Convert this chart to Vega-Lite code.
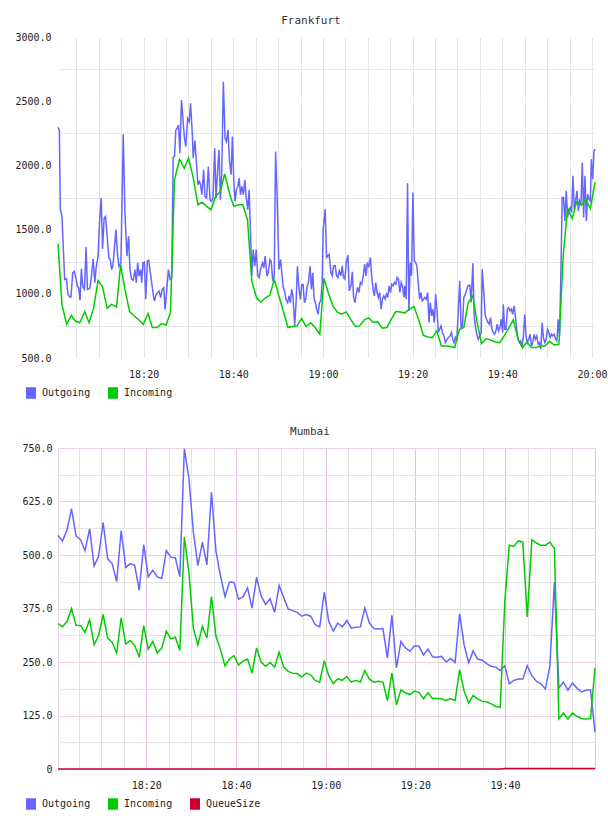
{
  "$schema": "https://vega.github.io/schema/vega-lite/v6.json",
  "background": "white",
  "padding": {"left": 14, "top": 15, "right": 0, "bottom": 0},
  "spacing": 24,
  "resolve": {"scale": {"color": "independent"}, "legend": {"color": "independent"}},
  "config": {
    "font": "DejaVu Sans Mono",
    "view": {"stroke": null},
    "title": {"font": "DejaVu Sans Mono", "fontSize": 11, "fontWeight": "normal", "color": "#333333", "anchor": "middle", "frame": "bounds", "offset": 6},
    "axis": {"labelFont": "DejaVu Sans Mono", "labelFontSize": 10, "labelColor": "#222222", "ticks": false, "domain": false, "title": null, "gridWidth": 1, "labelOverlap": false},
    "legend": {"direction": "horizontal", "symbolType": "M-1,-1H1M-1,-0.8H1M-1,-0.6H1M-1,-0.4H1M-1,-0.2H1M-1,0H1M-1,0.2H1M-1,0.4H1M-1,0.6H1M-1,0.8H1M-1,1H1", "symbolSize": 100, "labelFont": "DejaVu Sans Mono", "labelFontSize": 10, "labelColor": "#222222", "labelOffset": 5, "columnPadding": 14},
    "line": {"strokeWidth": 1.5}
  },
  "datasets": {
    "fra": [
      {"t":"2024-01-01T18:00:54Z","s":"Outgoing","v":2297},{"t":"2024-01-01T18:01:12Z","s":"Outgoing","v":2276},{"t":"2024-01-01T18:01:25Z","s":"Outgoing","v":1655},{"t":"2024-01-01T18:01:47Z","s":"Outgoing","v":1603},
      {"t":"2024-01-01T18:02:23Z","s":"Outgoing","v":1112},{"t":"2024-01-01T18:02:46Z","s":"Outgoing","v":1117},{"t":"2024-01-01T18:03:08Z","s":"Outgoing","v":995},{"t":"2024-01-01T18:03:30Z","s":"Outgoing","v":975},
      {"t":"2024-01-01T18:03:48Z","s":"Outgoing","v":975},{"t":"2024-01-01T18:04:11Z","s":"Outgoing","v":1163},{"t":"2024-01-01T18:04:33Z","s":"Outgoing","v":1176},{"t":"2024-01-01T18:04:56Z","s":"Outgoing","v":1112},
      {"t":"2024-01-01T18:05:13Z","s":"Outgoing","v":1060},{"t":"2024-01-01T18:05:31Z","s":"Outgoing","v":1047},{"t":"2024-01-01T18:05:49Z","s":"Outgoing","v":949},{"t":"2024-01-01T18:06:07Z","s":"Outgoing","v":1195},
      {"t":"2024-01-01T18:06:25Z","s":"Outgoing","v":1055},{"t":"2024-01-01T18:06:48Z","s":"Outgoing","v":1034},{"t":"2024-01-01T18:07:10Z","s":"Outgoing","v":1365},{"t":"2024-01-01T18:07:28Z","s":"Outgoing","v":1034},
      {"t":"2024-01-01T18:07:59Z","s":"Outgoing","v":1042},{"t":"2024-01-01T18:08:22Z","s":"Outgoing","v":1138},{"t":"2024-01-01T18:08:44Z","s":"Outgoing","v":1273},{"t":"2024-01-01T18:09:07Z","s":"Outgoing","v":1086},
      {"t":"2024-01-01T18:09:24Z","s":"Outgoing","v":1202},{"t":"2024-01-01T18:09:51Z","s":"Outgoing","v":1293},{"t":"2024-01-01T18:10:09Z","s":"Outgoing","v":1551},{"t":"2024-01-01T18:10:32Z","s":"Outgoing","v":1746},
      {"t":"2024-01-01T18:10:50Z","s":"Outgoing","v":1350},{"t":"2024-01-01T18:11:12Z","s":"Outgoing","v":1590},{"t":"2024-01-01T18:11:30Z","s":"Outgoing","v":1603},{"t":"2024-01-01T18:11:52Z","s":"Outgoing","v":1448},
      {"t":"2024-01-01T18:12:15Z","s":"Outgoing","v":1280},{"t":"2024-01-01T18:12:33Z","s":"Outgoing","v":1267},{"t":"2024-01-01T18:12:51Z","s":"Outgoing","v":1189},{"t":"2024-01-01T18:13:08Z","s":"Outgoing","v":1215},
      {"t":"2024-01-01T18:13:26Z","s":"Outgoing","v":1332},{"t":"2024-01-01T18:13:49Z","s":"Outgoing","v":1500},{"t":"2024-01-01T18:14:07Z","s":"Outgoing","v":1332},{"t":"2024-01-01T18:14:29Z","s":"Outgoing","v":1215},
      {"t":"2024-01-01T18:14:56Z","s":"Outgoing","v":1241},{"t":"2024-01-01T18:15:27Z","s":"Outgoing","v":2242},{"t":"2024-01-01T18:15:50Z","s":"Outgoing","v":1629},{"t":"2024-01-01T18:16:17Z","s":"Outgoing","v":1293},
      {"t":"2024-01-01T18:16:39Z","s":"Outgoing","v":1448},{"t":"2024-01-01T18:16:57Z","s":"Outgoing","v":1189},{"t":"2024-01-01T18:17:19Z","s":"Outgoing","v":1112},{"t":"2024-01-01T18:17:42Z","s":"Outgoing","v":1107},
      {"t":"2024-01-01T18:18:04Z","s":"Outgoing","v":1189},{"t":"2024-01-01T18:18:22Z","s":"Outgoing","v":1086},{"t":"2024-01-01T18:18:40Z","s":"Outgoing","v":1241},{"t":"2024-01-01T18:18:58Z","s":"Outgoing","v":1138},
      {"t":"2024-01-01T18:19:20Z","s":"Outgoing","v":1189},{"t":"2024-01-01T18:19:34Z","s":"Outgoing","v":1086},{"t":"2024-01-01T18:19:52Z","s":"Outgoing","v":1241},{"t":"2024-01-01T18:20:10Z","s":"Outgoing","v":1246},
      {"t":"2024-01-01T18:20:28Z","s":"Outgoing","v":957},{"t":"2024-01-01T18:20:50Z","s":"Outgoing","v":1254},{"t":"2024-01-01T18:21:08Z","s":"Outgoing","v":1262},{"t":"2024-01-01T18:21:30Z","s":"Outgoing","v":1163},
      {"t":"2024-01-01T18:21:48Z","s":"Outgoing","v":1086},{"t":"2024-01-01T18:22:06Z","s":"Outgoing","v":1008},{"t":"2024-01-01T18:22:24Z","s":"Outgoing","v":944},{"t":"2024-01-01T18:22:42Z","s":"Outgoing","v":983},
      {"t":"2024-01-01T18:23:04Z","s":"Outgoing","v":1008},{"t":"2024-01-01T18:23:27Z","s":"Outgoing","v":1021},{"t":"2024-01-01T18:23:49Z","s":"Outgoing","v":970},{"t":"2024-01-01T18:24:07Z","s":"Outgoing","v":1034},
      {"t":"2024-01-01T18:24:30Z","s":"Outgoing","v":1047},{"t":"2024-01-01T18:24:47Z","s":"Outgoing","v":879},{"t":"2024-01-01T18:25:10Z","s":"Outgoing","v":1034},{"t":"2024-01-01T18:25:32Z","s":"Outgoing","v":1189},
      {"t":"2024-01-01T18:25:55Z","s":"Outgoing","v":1112},{"t":"2024-01-01T18:26:17Z","s":"Outgoing","v":1125},{"t":"2024-01-01T18:26:35Z","s":"Outgoing","v":2060},{"t":"2024-01-01T18:26:53Z","s":"Outgoing","v":2070},
      {"t":"2024-01-01T18:27:11Z","s":"Outgoing","v":2276},{"t":"2024-01-01T18:27:29Z","s":"Outgoing","v":2289},{"t":"2024-01-01T18:27:47Z","s":"Outgoing","v":2315},{"t":"2024-01-01T18:28:05Z","s":"Outgoing","v":2095},
      {"t":"2024-01-01T18:28:27Z","s":"Outgoing","v":2509},{"t":"2024-01-01T18:28:49Z","s":"Outgoing","v":2340},{"t":"2024-01-01T18:29:07Z","s":"Outgoing","v":2211},{"t":"2024-01-01T18:29:25Z","s":"Outgoing","v":2147},
      {"t":"2024-01-01T18:29:48Z","s":"Outgoing","v":2366},{"t":"2024-01-01T18:30:10Z","s":"Outgoing","v":2340},{"t":"2024-01-01T18:30:28Z","s":"Outgoing","v":2483},{"t":"2024-01-01T18:30:51Z","s":"Outgoing","v":2250},
      {"t":"2024-01-01T18:31:04Z","s":"Outgoing","v":2056},{"t":"2024-01-01T18:31:26Z","s":"Outgoing","v":2193},{"t":"2024-01-01T18:31:44Z","s":"Outgoing","v":2043},{"t":"2024-01-01T18:32:07Z","s":"Outgoing","v":1849},
      {"t":"2024-01-01T18:32:25Z","s":"Outgoing","v":1875},{"t":"2024-01-01T18:32:43Z","s":"Outgoing","v":1849},{"t":"2024-01-01T18:33:00Z","s":"Outgoing","v":1771},{"t":"2024-01-01T18:33:23Z","s":"Outgoing","v":1965},
      {"t":"2024-01-01T18:33:41Z","s":"Outgoing","v":1758},{"t":"2024-01-01T18:34:03Z","s":"Outgoing","v":1746},{"t":"2024-01-01T18:34:26Z","s":"Outgoing","v":1991},{"t":"2024-01-01T18:34:48Z","s":"Outgoing","v":1732},
      {"t":"2024-01-01T18:35:10Z","s":"Outgoing","v":1720},{"t":"2024-01-01T18:35:28Z","s":"Outgoing","v":1746},{"t":"2024-01-01T18:35:51Z","s":"Outgoing","v":2134},{"t":"2024-01-01T18:36:09Z","s":"Outgoing","v":1746},
      {"t":"2024-01-01T18:36:31Z","s":"Outgoing","v":1965},{"t":"2024-01-01T18:36:49Z","s":"Outgoing","v":2121},{"t":"2024-01-01T18:37:07Z","s":"Outgoing","v":1732},{"t":"2024-01-01T18:37:25Z","s":"Outgoing","v":1927},
      {"t":"2024-01-01T18:37:47Z","s":"Outgoing","v":2651},{"t":"2024-01-01T18:38:10Z","s":"Outgoing","v":2211},{"t":"2024-01-01T18:38:28Z","s":"Outgoing","v":2185},{"t":"2024-01-01T18:38:50Z","s":"Outgoing","v":2276},
      {"t":"2024-01-01T18:39:08Z","s":"Outgoing","v":2043},{"t":"2024-01-01T18:39:30Z","s":"Outgoing","v":1927},{"t":"2024-01-01T18:39:48Z","s":"Outgoing","v":2224},{"t":"2024-01-01T18:40:06Z","s":"Outgoing","v":1888},
      {"t":"2024-01-01T18:40:24Z","s":"Outgoing","v":1720},{"t":"2024-01-01T18:40:42Z","s":"Outgoing","v":1810},{"t":"2024-01-01T18:41:00Z","s":"Outgoing","v":1836},{"t":"2024-01-01T18:41:18Z","s":"Outgoing","v":1901},
      {"t":"2024-01-01T18:41:36Z","s":"Outgoing","v":1771},{"t":"2024-01-01T18:41:54Z","s":"Outgoing","v":1836},{"t":"2024-01-01T18:42:16Z","s":"Outgoing","v":1771},{"t":"2024-01-01T18:42:34Z","s":"Outgoing","v":1888},
      {"t":"2024-01-01T18:42:52Z","s":"Outgoing","v":1758},{"t":"2024-01-01T18:43:14Z","s":"Outgoing","v":1655},{"t":"2024-01-01T18:43:32Z","s":"Outgoing","v":1810},{"t":"2024-01-01T18:43:50Z","s":"Outgoing","v":1474},
      {"t":"2024-01-01T18:44:08Z","s":"Outgoing","v":1138},{"t":"2024-01-01T18:44:26Z","s":"Outgoing","v":1345},{"t":"2024-01-01T18:44:48Z","s":"Outgoing","v":1215},{"t":"2024-01-01T18:45:06Z","s":"Outgoing","v":1345},
      {"t":"2024-01-01T18:45:29Z","s":"Outgoing","v":1138},{"t":"2024-01-01T18:45:47Z","s":"Outgoing","v":1125},{"t":"2024-01-01T18:46:09Z","s":"Outgoing","v":1202},{"t":"2024-01-01T18:46:32Z","s":"Outgoing","v":1241},
      {"t":"2024-01-01T18:46:49Z","s":"Outgoing","v":1202},{"t":"2024-01-01T18:47:07Z","s":"Outgoing","v":1293},{"t":"2024-01-01T18:47:30Z","s":"Outgoing","v":1138},{"t":"2024-01-01T18:47:48Z","s":"Outgoing","v":1163},
      {"t":"2024-01-01T18:48:10Z","s":"Outgoing","v":1267},{"t":"2024-01-01T18:48:28Z","s":"Outgoing","v":1254},{"t":"2024-01-01T18:48:46Z","s":"Outgoing","v":1112},{"t":"2024-01-01T18:49:08Z","s":"Outgoing","v":1138},
      {"t":"2024-01-01T18:49:26Z","s":"Outgoing","v":2108},{"t":"2024-01-01T18:49:49Z","s":"Outgoing","v":1707},{"t":"2024-01-01T18:50:11Z","s":"Outgoing","v":1189},{"t":"2024-01-01T18:50:34Z","s":"Outgoing","v":1267},
      {"t":"2024-01-01T18:50:51Z","s":"Outgoing","v":1151},{"t":"2024-01-01T18:51:09Z","s":"Outgoing","v":1047},{"t":"2024-01-01T18:51:27Z","s":"Outgoing","v":1021},{"t":"2024-01-01T18:51:45Z","s":"Outgoing","v":957},
      {"t":"2024-01-01T18:52:08Z","s":"Outgoing","v":931},{"t":"2024-01-01T18:52:25Z","s":"Outgoing","v":983},{"t":"2024-01-01T18:52:43Z","s":"Outgoing","v":931},{"t":"2024-01-01T18:53:01Z","s":"Outgoing","v":1034},
      {"t":"2024-01-01T18:53:19Z","s":"Outgoing","v":983},{"t":"2024-01-01T18:53:42Z","s":"Outgoing","v":750},{"t":"2024-01-01T18:54:00Z","s":"Outgoing","v":931},{"t":"2024-01-01T18:54:18Z","s":"Outgoing","v":1215},
      {"t":"2024-01-01T18:54:40Z","s":"Outgoing","v":1034},{"t":"2024-01-01T18:54:58Z","s":"Outgoing","v":957},{"t":"2024-01-01T18:55:16Z","s":"Outgoing","v":1073},{"t":"2024-01-01T18:55:34Z","s":"Outgoing","v":1073},
      {"t":"2024-01-01T18:55:52Z","s":"Outgoing","v":931},{"t":"2024-01-01T18:56:10Z","s":"Outgoing","v":957},{"t":"2024-01-01T18:56:28Z","s":"Outgoing","v":1060},{"t":"2024-01-01T18:56:45Z","s":"Outgoing","v":1086},
      {"t":"2024-01-01T18:57:08Z","s":"Outgoing","v":1215},{"t":"2024-01-01T18:57:26Z","s":"Outgoing","v":1034},{"t":"2024-01-01T18:57:44Z","s":"Outgoing","v":1163},{"t":"2024-01-01T18:58:02Z","s":"Outgoing","v":957},
      {"t":"2024-01-01T18:58:20Z","s":"Outgoing","v":931},{"t":"2024-01-01T18:58:37Z","s":"Outgoing","v":879},{"t":"2024-01-01T18:58:55Z","s":"Outgoing","v":840},{"t":"2024-01-01T18:59:13Z","s":"Outgoing","v":931},
      {"t":"2024-01-01T18:59:31Z","s":"Outgoing","v":944},{"t":"2024-01-01T18:59:49Z","s":"Outgoing","v":1086},{"t":"2024-01-01T19:00:03Z","s":"Outgoing","v":1503},{"t":"2024-01-01T19:00:30Z","s":"Outgoing","v":1659},
      {"t":"2024-01-01T19:00:48Z","s":"Outgoing","v":1283},{"t":"2024-01-01T19:01:05Z","s":"Outgoing","v":1296},{"t":"2024-01-01T19:01:23Z","s":"Outgoing","v":1308},{"t":"2024-01-01T19:01:46Z","s":"Outgoing","v":1166},
      {"t":"2024-01-01T19:02:04Z","s":"Outgoing","v":1140},{"t":"2024-01-01T19:02:22Z","s":"Outgoing","v":1218},{"t":"2024-01-01T19:02:44Z","s":"Outgoing","v":1218},{"t":"2024-01-01T19:03:02Z","s":"Outgoing","v":1140},
      {"t":"2024-01-01T19:03:20Z","s":"Outgoing","v":1127},{"t":"2024-01-01T19:03:38Z","s":"Outgoing","v":1179},{"t":"2024-01-01T19:04:00Z","s":"Outgoing","v":1140},{"t":"2024-01-01T19:04:18Z","s":"Outgoing","v":1218},
      {"t":"2024-01-01T19:04:36Z","s":"Outgoing","v":1127},{"t":"2024-01-01T19:04:54Z","s":"Outgoing","v":1114},{"t":"2024-01-01T19:05:12Z","s":"Outgoing","v":1244},{"t":"2024-01-01T19:05:34Z","s":"Outgoing","v":1303},
      {"t":"2024-01-01T19:05:52Z","s":"Outgoing","v":1023},{"t":"2024-01-01T19:06:15Z","s":"Outgoing","v":1062},{"t":"2024-01-01T19:06:33Z","s":"Outgoing","v":1171},{"t":"2024-01-01T19:06:50Z","s":"Outgoing","v":971},
      {"t":"2024-01-01T19:07:08Z","s":"Outgoing","v":932},{"t":"2024-01-01T19:07:26Z","s":"Outgoing","v":997},{"t":"2024-01-01T19:07:44Z","s":"Outgoing","v":1049},{"t":"2024-01-01T19:08:02Z","s":"Outgoing","v":1010},
      {"t":"2024-01-01T19:08:20Z","s":"Outgoing","v":1088},{"t":"2024-01-01T19:08:38Z","s":"Outgoing","v":1075},{"t":"2024-01-01T19:09:00Z","s":"Outgoing","v":1140},{"t":"2024-01-01T19:09:18Z","s":"Outgoing","v":1231},
      {"t":"2024-01-01T19:09:36Z","s":"Outgoing","v":1140},{"t":"2024-01-01T19:09:54Z","s":"Outgoing","v":1244},{"t":"2024-01-01T19:10:12Z","s":"Outgoing","v":1205},{"t":"2024-01-01T19:10:35Z","s":"Outgoing","v":1283},
      {"t":"2024-01-01T19:10:52Z","s":"Outgoing","v":1140},{"t":"2024-01-01T19:11:10Z","s":"Outgoing","v":1036},{"t":"2024-01-01T19:11:28Z","s":"Outgoing","v":984},{"t":"2024-01-01T19:11:46Z","s":"Outgoing","v":1088},
      {"t":"2024-01-01T19:12:04Z","s":"Outgoing","v":1010},{"t":"2024-01-01T19:12:22Z","s":"Outgoing","v":971},{"t":"2024-01-01T19:12:40Z","s":"Outgoing","v":1010},{"t":"2024-01-01T19:12:58Z","s":"Outgoing","v":880},
      {"t":"2024-01-01T19:13:16Z","s":"Outgoing","v":958},{"t":"2024-01-01T19:13:34Z","s":"Outgoing","v":984},{"t":"2024-01-01T19:13:52Z","s":"Outgoing","v":958},{"t":"2024-01-01T19:14:10Z","s":"Outgoing","v":997},
      {"t":"2024-01-01T19:14:28Z","s":"Outgoing","v":971},{"t":"2024-01-01T19:14:45Z","s":"Outgoing","v":1062},{"t":"2024-01-01T19:15:03Z","s":"Outgoing","v":1010},{"t":"2024-01-01T19:15:21Z","s":"Outgoing","v":1075},
      {"t":"2024-01-01T19:15:39Z","s":"Outgoing","v":1062},{"t":"2024-01-01T19:15:57Z","s":"Outgoing","v":1088},{"t":"2024-01-01T19:16:15Z","s":"Outgoing","v":1075},{"t":"2024-01-01T19:16:33Z","s":"Outgoing","v":1127},
      {"t":"2024-01-01T19:16:51Z","s":"Outgoing","v":1114},{"t":"2024-01-01T19:17:09Z","s":"Outgoing","v":1010},{"t":"2024-01-01T19:17:27Z","s":"Outgoing","v":1088},{"t":"2024-01-01T19:17:45Z","s":"Outgoing","v":1062},
      {"t":"2024-01-01T19:18:03Z","s":"Outgoing","v":971},{"t":"2024-01-01T19:18:16Z","s":"Outgoing","v":1062},{"t":"2024-01-01T19:18:34Z","s":"Outgoing","v":958},{"t":"2024-01-01T19:18:52Z","s":"Outgoing","v":1860},
      {"t":"2024-01-01T19:19:10Z","s":"Outgoing","v":867},{"t":"2024-01-01T19:19:28Z","s":"Outgoing","v":1244},{"t":"2024-01-01T19:19:46Z","s":"Outgoing","v":1140},{"t":"2024-01-01T19:20:04Z","s":"Outgoing","v":1789},
      {"t":"2024-01-01T19:20:22Z","s":"Outgoing","v":1257},{"t":"2024-01-01T19:20:39Z","s":"Outgoing","v":1244},{"t":"2024-01-01T19:20:57Z","s":"Outgoing","v":1218},{"t":"2024-01-01T19:21:15Z","s":"Outgoing","v":1088},
      {"t":"2024-01-01T19:21:33Z","s":"Outgoing","v":958},{"t":"2024-01-01T19:21:51Z","s":"Outgoing","v":1010},{"t":"2024-01-01T19:22:09Z","s":"Outgoing","v":945},{"t":"2024-01-01T19:22:27Z","s":"Outgoing","v":958},
      {"t":"2024-01-01T19:22:45Z","s":"Outgoing","v":971},{"t":"2024-01-01T19:23:03Z","s":"Outgoing","v":958},{"t":"2024-01-01T19:23:21Z","s":"Outgoing","v":1010},{"t":"2024-01-01T19:23:39Z","s":"Outgoing","v":776},
      {"t":"2024-01-01T19:23:57Z","s":"Outgoing","v":932},{"t":"2024-01-01T19:24:15Z","s":"Outgoing","v":828},{"t":"2024-01-01T19:24:32Z","s":"Outgoing","v":880},{"t":"2024-01-01T19:24:50Z","s":"Outgoing","v":776},
      {"t":"2024-01-01T19:25:08Z","s":"Outgoing","v":997},{"t":"2024-01-01T19:25:26Z","s":"Outgoing","v":880},{"t":"2024-01-01T19:25:44Z","s":"Outgoing","v":698},{"t":"2024-01-01T19:26:02Z","s":"Outgoing","v":724},
      {"t":"2024-01-01T19:26:20Z","s":"Outgoing","v":750},{"t":"2024-01-01T19:26:38Z","s":"Outgoing","v":698},{"t":"2024-01-01T19:27:00Z","s":"Outgoing","v":672},{"t":"2024-01-01T19:27:18Z","s":"Outgoing","v":620},
      {"t":"2024-01-01T19:27:41Z","s":"Outgoing","v":646},{"t":"2024-01-01T19:27:59Z","s":"Outgoing","v":659},{"t":"2024-01-01T19:28:21Z","s":"Outgoing","v":672},{"t":"2024-01-01T19:28:39Z","s":"Outgoing","v":698},
      {"t":"2024-01-01T19:28:57Z","s":"Outgoing","v":646},{"t":"2024-01-01T19:29:15Z","s":"Outgoing","v":620},{"t":"2024-01-01T19:29:33Z","s":"Outgoing","v":659},{"t":"2024-01-01T19:29:51Z","s":"Outgoing","v":633},
      {"t":"2024-01-01T19:30:31Z","s":"Outgoing","v":1101},{"t":"2024-01-01T19:30:49Z","s":"Outgoing","v":724},{"t":"2024-01-01T19:31:07Z","s":"Outgoing","v":750},{"t":"2024-01-01T19:31:25Z","s":"Outgoing","v":971},
      {"t":"2024-01-01T19:31:47Z","s":"Outgoing","v":997},{"t":"2024-01-01T19:32:05Z","s":"Outgoing","v":1036},{"t":"2024-01-01T19:32:23Z","s":"Outgoing","v":1067},{"t":"2024-01-01T19:32:46Z","s":"Outgoing","v":1067},
      {"t":"2024-01-01T19:33:04Z","s":"Outgoing","v":932},{"t":"2024-01-01T19:33:26Z","s":"Outgoing","v":1238},{"t":"2024-01-01T19:33:44Z","s":"Outgoing","v":828},{"t":"2024-01-01T19:34:02Z","s":"Outgoing","v":737},
      {"t":"2024-01-01T19:34:20Z","s":"Outgoing","v":685},{"t":"2024-01-01T19:34:38Z","s":"Outgoing","v":646},{"t":"2024-01-01T19:35:00Z","s":"Outgoing","v":672},{"t":"2024-01-01T19:35:18Z","s":"Outgoing","v":698},
      {"t":"2024-01-01T19:35:31Z","s":"Outgoing","v":1192},{"t":"2024-01-01T19:35:54Z","s":"Outgoing","v":997},{"t":"2024-01-01T19:36:12Z","s":"Outgoing","v":828},{"t":"2024-01-01T19:36:30Z","s":"Outgoing","v":802},
      {"t":"2024-01-01T19:36:48Z","s":"Outgoing","v":776},{"t":"2024-01-01T19:37:05Z","s":"Outgoing","v":763},{"t":"2024-01-01T19:37:23Z","s":"Outgoing","v":815},{"t":"2024-01-01T19:37:41Z","s":"Outgoing","v":724},
      {"t":"2024-01-01T19:37:59Z","s":"Outgoing","v":698},{"t":"2024-01-01T19:38:17Z","s":"Outgoing","v":685},{"t":"2024-01-01T19:38:35Z","s":"Outgoing","v":711},{"t":"2024-01-01T19:38:53Z","s":"Outgoing","v":763},
      {"t":"2024-01-01T19:39:11Z","s":"Outgoing","v":711},{"t":"2024-01-01T19:39:29Z","s":"Outgoing","v":737},{"t":"2024-01-01T19:39:47Z","s":"Outgoing","v":802},{"t":"2024-01-01T19:40:05Z","s":"Outgoing","v":698},
      {"t":"2024-01-01T19:40:14Z","s":"Outgoing","v":919},{"t":"2024-01-01T19:40:32Z","s":"Outgoing","v":724},{"t":"2024-01-01T19:40:50Z","s":"Outgoing","v":724},{"t":"2024-01-01T19:41:08Z","s":"Outgoing","v":880},
      {"t":"2024-01-01T19:41:25Z","s":"Outgoing","v":893},{"t":"2024-01-01T19:41:43Z","s":"Outgoing","v":867},{"t":"2024-01-01T19:42:01Z","s":"Outgoing","v":880},{"t":"2024-01-01T19:42:19Z","s":"Outgoing","v":841},
      {"t":"2024-01-01T19:42:37Z","s":"Outgoing","v":906},{"t":"2024-01-01T19:42:55Z","s":"Outgoing","v":828},{"t":"2024-01-01T19:43:13Z","s":"Outgoing","v":724},{"t":"2024-01-01T19:43:31Z","s":"Outgoing","v":646},
      {"t":"2024-01-01T19:43:49Z","s":"Outgoing","v":620},{"t":"2024-01-01T19:44:07Z","s":"Outgoing","v":633},{"t":"2024-01-01T19:44:25Z","s":"Outgoing","v":594},{"t":"2024-01-01T19:44:43Z","s":"Outgoing","v":672},
      {"t":"2024-01-01T19:45:00Z","s":"Outgoing","v":841},{"t":"2024-01-01T19:45:18Z","s":"Outgoing","v":672},{"t":"2024-01-01T19:45:36Z","s":"Outgoing","v":620},{"t":"2024-01-01T19:45:54Z","s":"Outgoing","v":646},
      {"t":"2024-01-01T19:46:12Z","s":"Outgoing","v":685},{"t":"2024-01-01T19:46:30Z","s":"Outgoing","v":594},{"t":"2024-01-01T19:46:48Z","s":"Outgoing","v":620},{"t":"2024-01-01T19:47:06Z","s":"Outgoing","v":685},
      {"t":"2024-01-01T19:47:24Z","s":"Outgoing","v":646},{"t":"2024-01-01T19:47:42Z","s":"Outgoing","v":672},{"t":"2024-01-01T19:48:00Z","s":"Outgoing","v":607},{"t":"2024-01-01T19:48:18Z","s":"Outgoing","v":620},
      {"t":"2024-01-01T19:48:36Z","s":"Outgoing","v":568},{"t":"2024-01-01T19:48:53Z","s":"Outgoing","v":776},{"t":"2024-01-01T19:49:11Z","s":"Outgoing","v":659},{"t":"2024-01-01T19:49:29Z","s":"Outgoing","v":620},
      {"t":"2024-01-01T19:49:47Z","s":"Outgoing","v":646},{"t":"2024-01-01T19:50:05Z","s":"Outgoing","v":724},{"t":"2024-01-01T19:50:23Z","s":"Outgoing","v":698},{"t":"2024-01-01T19:50:41Z","s":"Outgoing","v":659},
      {"t":"2024-01-01T19:50:59Z","s":"Outgoing","v":685},{"t":"2024-01-01T19:51:17Z","s":"Outgoing","v":672},{"t":"2024-01-01T19:51:35Z","s":"Outgoing","v":685},{"t":"2024-01-01T19:51:53Z","s":"Outgoing","v":646},
      {"t":"2024-01-01T19:52:11Z","s":"Outgoing","v":633},{"t":"2024-01-01T19:52:29Z","s":"Outgoing","v":802},{"t":"2024-01-01T19:52:47Z","s":"Outgoing","v":672},{"t":"2024-01-01T19:53:04Z","s":"Outgoing","v":1140},
      {"t":"2024-01-01T19:53:22Z","s":"Outgoing","v":1750},{"t":"2024-01-01T19:53:40Z","s":"Outgoing","v":1750},{"t":"2024-01-01T19:53:58Z","s":"Outgoing","v":1568},{"t":"2024-01-01T19:54:16Z","s":"Outgoing","v":1802},
      {"t":"2024-01-01T19:54:34Z","s":"Outgoing","v":1594},{"t":"2024-01-01T19:54:52Z","s":"Outgoing","v":1646},{"t":"2024-01-01T19:55:10Z","s":"Outgoing","v":1672},{"t":"2024-01-01T19:55:28Z","s":"Outgoing","v":1633},
      {"t":"2024-01-01T19:55:46Z","s":"Outgoing","v":1919},{"t":"2024-01-01T19:56:04Z","s":"Outgoing","v":1659},{"t":"2024-01-01T19:56:22Z","s":"Outgoing","v":1724},{"t":"2024-01-01T19:56:40Z","s":"Outgoing","v":1802},
      {"t":"2024-01-01T19:56:58Z","s":"Outgoing","v":1646},{"t":"2024-01-01T19:57:15Z","s":"Outgoing","v":1724},{"t":"2024-01-01T19:57:33Z","s":"Outgoing","v":1698},{"t":"2024-01-01T19:57:51Z","s":"Outgoing","v":2023},
      {"t":"2024-01-01T19:58:09Z","s":"Outgoing","v":1594},{"t":"2024-01-01T19:58:27Z","s":"Outgoing","v":1919},{"t":"2024-01-01T19:58:45Z","s":"Outgoing","v":1568},{"t":"2024-01-01T19:59:03Z","s":"Outgoing","v":1776},
      {"t":"2024-01-01T19:59:21Z","s":"Outgoing","v":1737},{"t":"2024-01-01T19:59:39Z","s":"Outgoing","v":1724},{"t":"2024-01-01T19:59:52Z","s":"Outgoing","v":2049},{"t":"2024-01-01T20:00:10Z","s":"Outgoing","v":1893},
      {"t":"2024-01-01T20:00:28Z","s":"Outgoing","v":2114},{"t":"2024-01-01T20:00:41Z","s":"Outgoing","v":2127},
      {"t":"2024-01-01T18:00:54Z","s":"Incoming","v":1391},{"t":"2024-01-01T18:01:47Z","s":"Incoming","v":918},{"t":"2024-01-01T18:02:50Z","s":"Incoming","v":762},{"t":"2024-01-01T18:03:53Z","s":"Incoming","v":832},
      {"t":"2024-01-01T18:04:47Z","s":"Incoming","v":788},{"t":"2024-01-01T18:05:45Z","s":"Incoming","v":775},{"t":"2024-01-01T18:06:52Z","s":"Incoming","v":861},{"t":"2024-01-01T18:07:50Z","s":"Incoming","v":775},
      {"t":"2024-01-01T18:08:49Z","s":"Incoming","v":884},{"t":"2024-01-01T18:09:51Z","s":"Incoming","v":1104},{"t":"2024-01-01T18:10:50Z","s":"Incoming","v":1054},{"t":"2024-01-01T18:11:52Z","s":"Incoming","v":887},
      {"t":"2024-01-01T18:12:50Z","s":"Incoming","v":918},{"t":"2024-01-01T18:13:58Z","s":"Incoming","v":897},{"t":"2024-01-01T18:14:52Z","s":"Incoming","v":1228},{"t":"2024-01-01T18:15:50Z","s":"Incoming","v":1034},
      {"t":"2024-01-01T18:16:52Z","s":"Incoming","v":861},{"t":"2024-01-01T18:17:55Z","s":"Incoming","v":827},{"t":"2024-01-01T18:18:58Z","s":"Incoming","v":796},{"t":"2024-01-01T18:19:56Z","s":"Incoming","v":762},
      {"t":"2024-01-01T18:20:59Z","s":"Incoming","v":848},{"t":"2024-01-01T18:21:57Z","s":"Incoming","v":737},{"t":"2024-01-01T18:23:00Z","s":"Incoming","v":737},{"t":"2024-01-01T18:24:03Z","s":"Incoming","v":768},
      {"t":"2024-01-01T18:25:01Z","s":"Incoming","v":757},{"t":"2024-01-01T18:25:59Z","s":"Incoming","v":853},{"t":"2024-01-01T18:26:53Z","s":"Incoming","v":1888},{"t":"2024-01-01T18:28:00Z","s":"Incoming","v":2048},
      {"t":"2024-01-01T18:29:03Z","s":"Incoming","v":1978},{"t":"2024-01-01T18:30:01Z","s":"Incoming","v":2056},{"t":"2024-01-01T18:31:00Z","s":"Incoming","v":1914},{"t":"2024-01-01T18:32:07Z","s":"Incoming","v":1694},
      {"t":"2024-01-01T18:33:05Z","s":"Incoming","v":1714},{"t":"2024-01-01T18:34:03Z","s":"Incoming","v":1681},{"t":"2024-01-01T18:35:01Z","s":"Incoming","v":1655},{"t":"2024-01-01T18:36:04Z","s":"Incoming","v":1758},
      {"t":"2024-01-01T18:37:07Z","s":"Incoming","v":1797},{"t":"2024-01-01T18:38:05Z","s":"Incoming","v":1934},{"t":"2024-01-01T18:39:08Z","s":"Incoming","v":1784},{"t":"2024-01-01T18:40:06Z","s":"Incoming","v":1681},
      {"t":"2024-01-01T18:41:09Z","s":"Incoming","v":1694},{"t":"2024-01-01T18:42:07Z","s":"Incoming","v":1694},{"t":"2024-01-01T18:43:10Z","s":"Incoming","v":1577},{"t":"2024-01-01T18:44:08Z","s":"Incoming","v":1099},
      {"t":"2024-01-01T18:45:11Z","s":"Incoming","v":969},{"t":"2024-01-01T18:46:09Z","s":"Incoming","v":936},{"t":"2024-01-01T18:47:12Z","s":"Incoming","v":969},{"t":"2024-01-01T18:48:10Z","s":"Incoming","v":990},
      {"t":"2024-01-01T18:49:08Z","s":"Incoming","v":1112},{"t":"2024-01-01T18:50:11Z","s":"Incoming","v":983},{"t":"2024-01-01T18:51:09Z","s":"Incoming","v":866},{"t":"2024-01-01T18:52:12Z","s":"Incoming","v":737},
      {"t":"2024-01-01T18:53:15Z","s":"Incoming","v":745},{"t":"2024-01-01T18:54:13Z","s":"Incoming","v":750},{"t":"2024-01-01T18:55:16Z","s":"Incoming","v":807},{"t":"2024-01-01T18:56:14Z","s":"Incoming","v":745},
      {"t":"2024-01-01T18:57:17Z","s":"Incoming","v":775},{"t":"2024-01-01T18:58:15Z","s":"Incoming","v":737},{"t":"2024-01-01T18:59:18Z","s":"Incoming","v":685},{"t":"2024-01-01T19:00:14Z","s":"Incoming","v":1120},
      {"t":"2024-01-01T19:01:10Z","s":"Incoming","v":1010},{"t":"2024-01-01T19:02:13Z","s":"Incoming","v":906},{"t":"2024-01-01T19:03:11Z","s":"Incoming","v":859},{"t":"2024-01-01T19:04:09Z","s":"Incoming","v":841},
      {"t":"2024-01-01T19:05:12Z","s":"Incoming","v":859},{"t":"2024-01-01T19:06:10Z","s":"Incoming","v":802},{"t":"2024-01-01T19:07:13Z","s":"Incoming","v":745},{"t":"2024-01-01T19:08:11Z","s":"Incoming","v":750},
      {"t":"2024-01-01T19:09:14Z","s":"Incoming","v":797},{"t":"2024-01-01T19:10:12Z","s":"Incoming","v":812},{"t":"2024-01-01T19:11:15Z","s":"Incoming","v":776},{"t":"2024-01-01T19:12:13Z","s":"Incoming","v":781},
      {"t":"2024-01-01T19:13:16Z","s":"Incoming","v":732},{"t":"2024-01-01T19:14:14Z","s":"Incoming","v":737},{"t":"2024-01-01T19:15:17Z","s":"Incoming","v":802},{"t":"2024-01-01T19:16:15Z","s":"Incoming","v":862},
      {"t":"2024-01-01T19:17:18Z","s":"Incoming","v":859},{"t":"2024-01-01T19:18:16Z","s":"Incoming","v":851},{"t":"2024-01-01T19:19:19Z","s":"Incoming","v":880},{"t":"2024-01-01T19:20:17Z","s":"Incoming","v":901},
      {"t":"2024-01-01T19:21:20Z","s":"Incoming","v":802},{"t":"2024-01-01T19:22:23Z","s":"Incoming","v":677},{"t":"2024-01-01T19:23:21Z","s":"Incoming","v":664},{"t":"2024-01-01T19:24:24Z","s":"Incoming","v":659},
      {"t":"2024-01-01T19:25:22Z","s":"Incoming","v":711},{"t":"2024-01-01T19:26:25Z","s":"Incoming","v":594},{"t":"2024-01-01T19:27:23Z","s":"Incoming","v":594},{"t":"2024-01-01T19:28:26Z","s":"Incoming","v":589},
      {"t":"2024-01-01T19:29:24Z","s":"Incoming","v":581},{"t":"2024-01-01T19:30:26Z","s":"Incoming","v":724},{"t":"2024-01-01T19:31:25Z","s":"Incoming","v":737},{"t":"2024-01-01T19:32:23Z","s":"Incoming","v":932},
      {"t":"2024-01-01T19:33:26Z","s":"Incoming","v":984},{"t":"2024-01-01T19:34:24Z","s":"Incoming","v":776},{"t":"2024-01-01T19:35:22Z","s":"Incoming","v":612},{"t":"2024-01-01T19:36:25Z","s":"Incoming","v":651},
      {"t":"2024-01-01T19:37:23Z","s":"Incoming","v":641},{"t":"2024-01-01T19:38:26Z","s":"Incoming","v":625},{"t":"2024-01-01T19:39:24Z","s":"Incoming","v":620},{"t":"2024-01-01T19:40:27Z","s":"Incoming","v":672},
      {"t":"2024-01-01T19:41:30Z","s":"Incoming","v":737},{"t":"2024-01-01T19:42:28Z","s":"Incoming","v":797},{"t":"2024-01-01T19:43:31Z","s":"Incoming","v":646},{"t":"2024-01-01T19:44:29Z","s":"Incoming","v":581},
      {"t":"2024-01-01T19:45:32Z","s":"Incoming","v":625},{"t":"2024-01-01T19:46:30Z","s":"Incoming","v":581},{"t":"2024-01-01T19:47:33Z","s":"Incoming","v":581},{"t":"2024-01-01T19:48:31Z","s":"Incoming","v":594},
      {"t":"2024-01-01T19:49:34Z","s":"Incoming","v":594},{"t":"2024-01-01T19:50:32Z","s":"Incoming","v":630},{"t":"2024-01-01T19:51:35Z","s":"Incoming","v":602},{"t":"2024-01-01T19:52:38Z","s":"Incoming","v":607},
      {"t":"2024-01-01T19:53:36Z","s":"Incoming","v":1300},{"t":"2024-01-01T19:54:34Z","s":"Incoming","v":1667},{"t":"2024-01-01T19:55:37Z","s":"Incoming","v":1586},{"t":"2024-01-01T19:56:35Z","s":"Incoming","v":1716},
      {"t":"2024-01-01T19:57:38Z","s":"Incoming","v":1690},{"t":"2024-01-01T19:58:36Z","s":"Incoming","v":1737},{"t":"2024-01-01T19:59:39Z","s":"Incoming","v":1664},{"t":"2024-01-01T20:00:41Z","s":"Incoming","v":1867}
    ],
    "bom": [
      {"t":"2024-01-01T18:00:19Z","s":"Outgoing","v":546},{"t":"2024-01-01T18:01:19Z","s":"Outgoing","v":532},{"t":"2024-01-01T18:02:20Z","s":"Outgoing","v":559},{"t":"2024-01-01T18:03:20Z","s":"Outgoing","v":608},
      {"t":"2024-01-01T18:04:20Z","s":"Outgoing","v":545},{"t":"2024-01-01T18:05:21Z","s":"Outgoing","v":536},{"t":"2024-01-01T18:06:21Z","s":"Outgoing","v":510},{"t":"2024-01-01T18:07:22Z","s":"Outgoing","v":561},
      {"t":"2024-01-01T18:08:22Z","s":"Outgoing","v":474},{"t":"2024-01-01T18:09:22Z","s":"Outgoing","v":497},{"t":"2024-01-01T18:10:23Z","s":"Outgoing","v":576},{"t":"2024-01-01T18:11:23Z","s":"Outgoing","v":491},
      {"t":"2024-01-01T18:12:23Z","s":"Outgoing","v":480},{"t":"2024-01-01T18:13:24Z","s":"Outgoing","v":438},{"t":"2024-01-01T18:14:24Z","s":"Outgoing","v":557},{"t":"2024-01-01T18:15:25Z","s":"Outgoing","v":471},
      {"t":"2024-01-01T18:16:25Z","s":"Outgoing","v":480},{"t":"2024-01-01T18:17:25Z","s":"Outgoing","v":476},{"t":"2024-01-01T18:18:26Z","s":"Outgoing","v":418},{"t":"2024-01-01T18:19:26Z","s":"Outgoing","v":524},
      {"t":"2024-01-01T18:20:26Z","s":"Outgoing","v":449},{"t":"2024-01-01T18:21:27Z","s":"Outgoing","v":464},{"t":"2024-01-01T18:22:27Z","s":"Outgoing","v":449},{"t":"2024-01-01T18:23:28Z","s":"Outgoing","v":445},
      {"t":"2024-01-01T18:24:28Z","s":"Outgoing","v":510},{"t":"2024-01-01T18:25:28Z","s":"Outgoing","v":495},{"t":"2024-01-01T18:26:29Z","s":"Outgoing","v":493},{"t":"2024-01-01T18:27:29Z","s":"Outgoing","v":449},
      {"t":"2024-01-01T18:28:29Z","s":"Outgoing","v":748},{"t":"2024-01-01T18:29:30Z","s":"Outgoing","v":680},{"t":"2024-01-01T18:30:30Z","s":"Outgoing","v":554},{"t":"2024-01-01T18:31:30Z","s":"Outgoing","v":475},
      {"t":"2024-01-01T18:32:31Z","s":"Outgoing","v":530},{"t":"2024-01-01T18:33:31Z","s":"Outgoing","v":477},{"t":"2024-01-01T18:34:32Z","s":"Outgoing","v":647},{"t":"2024-01-01T18:35:32Z","s":"Outgoing","v":509},
      {"t":"2024-01-01T18:36:32Z","s":"Outgoing","v":452},{"t":"2024-01-01T18:37:33Z","s":"Outgoing","v":403},{"t":"2024-01-01T18:38:33Z","s":"Outgoing","v":437},{"t":"2024-01-01T18:39:33Z","s":"Outgoing","v":436},
      {"t":"2024-01-01T18:40:34Z","s":"Outgoing","v":397},{"t":"2024-01-01T18:41:34Z","s":"Outgoing","v":402},{"t":"2024-01-01T18:42:35Z","s":"Outgoing","v":423},{"t":"2024-01-01T18:43:35Z","s":"Outgoing","v":376},
      {"t":"2024-01-01T18:44:35Z","s":"Outgoing","v":448},{"t":"2024-01-01T18:45:36Z","s":"Outgoing","v":405},{"t":"2024-01-01T18:46:36Z","s":"Outgoing","v":384},{"t":"2024-01-01T18:47:36Z","s":"Outgoing","v":398},
      {"t":"2024-01-01T18:48:37Z","s":"Outgoing","v":366},{"t":"2024-01-01T18:49:37Z","s":"Outgoing","v":429},{"t":"2024-01-01T18:50:38Z","s":"Outgoing","v":401},{"t":"2024-01-01T18:51:38Z","s":"Outgoing","v":374},
      {"t":"2024-01-01T18:52:38Z","s":"Outgoing","v":370},{"t":"2024-01-01T18:53:39Z","s":"Outgoing","v":366},{"t":"2024-01-01T18:54:39Z","s":"Outgoing","v":357},{"t":"2024-01-01T18:55:39Z","s":"Outgoing","v":361},
      {"t":"2024-01-01T18:56:40Z","s":"Outgoing","v":357},{"t":"2024-01-01T18:57:40Z","s":"Outgoing","v":337},{"t":"2024-01-01T18:58:40Z","s":"Outgoing","v":332},{"t":"2024-01-01T18:59:41Z","s":"Outgoing","v":413},
      {"t":"2024-01-01T19:00:41Z","s":"Outgoing","v":345},{"t":"2024-01-01T19:01:42Z","s":"Outgoing","v":322},{"t":"2024-01-01T19:02:42Z","s":"Outgoing","v":341},{"t":"2024-01-01T19:03:42Z","s":"Outgoing","v":332},
      {"t":"2024-01-01T19:04:43Z","s":"Outgoing","v":347},{"t":"2024-01-01T19:05:43Z","s":"Outgoing","v":329},{"t":"2024-01-01T19:06:43Z","s":"Outgoing","v":331},{"t":"2024-01-01T19:07:44Z","s":"Outgoing","v":332},
      {"t":"2024-01-01T19:08:44Z","s":"Outgoing","v":376},{"t":"2024-01-01T19:09:45Z","s":"Outgoing","v":341},{"t":"2024-01-01T19:10:45Z","s":"Outgoing","v":328},{"t":"2024-01-01T19:11:45Z","s":"Outgoing","v":327},
      {"t":"2024-01-01T19:12:46Z","s":"Outgoing","v":328},{"t":"2024-01-01T19:13:46Z","s":"Outgoing","v":259},{"t":"2024-01-01T19:14:46Z","s":"Outgoing","v":359},{"t":"2024-01-01T19:15:47Z","s":"Outgoing","v":236},
      {"t":"2024-01-01T19:16:47Z","s":"Outgoing","v":298},{"t":"2024-01-01T19:17:47Z","s":"Outgoing","v":283},{"t":"2024-01-01T19:18:48Z","s":"Outgoing","v":275},{"t":"2024-01-01T19:19:48Z","s":"Outgoing","v":288},
      {"t":"2024-01-01T19:20:49Z","s":"Outgoing","v":287},{"t":"2024-01-01T19:21:49Z","s":"Outgoing","v":266},{"t":"2024-01-01T19:22:49Z","s":"Outgoing","v":280},{"t":"2024-01-01T19:23:50Z","s":"Outgoing","v":262},
      {"t":"2024-01-01T19:24:50Z","s":"Outgoing","v":261},{"t":"2024-01-01T19:25:50Z","s":"Outgoing","v":263},{"t":"2024-01-01T19:26:51Z","s":"Outgoing","v":250},{"t":"2024-01-01T19:27:51Z","s":"Outgoing","v":258},
      {"t":"2024-01-01T19:28:52Z","s":"Outgoing","v":249},{"t":"2024-01-01T19:29:52Z","s":"Outgoing","v":363},{"t":"2024-01-01T19:30:52Z","s":"Outgoing","v":290},{"t":"2024-01-01T19:31:53Z","s":"Outgoing","v":248},
      {"t":"2024-01-01T19:32:53Z","s":"Outgoing","v":276},{"t":"2024-01-01T19:33:53Z","s":"Outgoing","v":257},{"t":"2024-01-01T19:34:54Z","s":"Outgoing","v":254},{"t":"2024-01-01T19:35:54Z","s":"Outgoing","v":246},
      {"t":"2024-01-01T19:36:55Z","s":"Outgoing","v":240},{"t":"2024-01-01T19:37:55Z","s":"Outgoing","v":238},{"t":"2024-01-01T19:38:55Z","s":"Outgoing","v":230},{"t":"2024-01-01T19:39:56Z","s":"Outgoing","v":241},
      {"t":"2024-01-01T19:40:56Z","s":"Outgoing","v":199},{"t":"2024-01-01T19:41:56Z","s":"Outgoing","v":207},{"t":"2024-01-01T19:42:57Z","s":"Outgoing","v":210},{"t":"2024-01-01T19:43:57Z","s":"Outgoing","v":210},
      {"t":"2024-01-01T19:44:57Z","s":"Outgoing","v":241},{"t":"2024-01-01T19:45:58Z","s":"Outgoing","v":218},{"t":"2024-01-01T19:46:58Z","s":"Outgoing","v":205},{"t":"2024-01-01T19:47:59Z","s":"Outgoing","v":199},
      {"t":"2024-01-01T19:48:59Z","s":"Outgoing","v":187},{"t":"2024-01-01T19:49:59Z","s":"Outgoing","v":241},{"t":"2024-01-01T19:51:00Z","s":"Outgoing","v":436},{"t":"2024-01-01T19:52:00Z","s":"Outgoing","v":189},
      {"t":"2024-01-01T19:53:00Z","s":"Outgoing","v":203},{"t":"2024-01-01T19:54:01Z","s":"Outgoing","v":184},{"t":"2024-01-01T19:55:01Z","s":"Outgoing","v":201},{"t":"2024-01-01T19:56:02Z","s":"Outgoing","v":189},
      {"t":"2024-01-01T19:57:02Z","s":"Outgoing","v":180},{"t":"2024-01-01T19:58:02Z","s":"Outgoing","v":184},{"t":"2024-01-01T19:59:03Z","s":"Outgoing","v":185},{"t":"2024-01-01T20:00:03Z","s":"Outgoing","v":86},
      {"t":"2024-01-01T18:00:19Z","s":"Incoming","v":340},{"t":"2024-01-01T18:01:19Z","s":"Incoming","v":332},{"t":"2024-01-01T18:02:20Z","s":"Incoming","v":345},{"t":"2024-01-01T18:03:20Z","s":"Incoming","v":375},
      {"t":"2024-01-01T18:04:20Z","s":"Incoming","v":336},{"t":"2024-01-01T18:05:21Z","s":"Incoming","v":335},{"t":"2024-01-01T18:06:21Z","s":"Incoming","v":319},{"t":"2024-01-01T18:07:22Z","s":"Incoming","v":349},
      {"t":"2024-01-01T18:08:22Z","s":"Incoming","v":290},{"t":"2024-01-01T18:09:22Z","s":"Incoming","v":312},{"t":"2024-01-01T18:10:23Z","s":"Incoming","v":361},{"t":"2024-01-01T18:11:23Z","s":"Incoming","v":306},
      {"t":"2024-01-01T18:12:23Z","s":"Incoming","v":296},{"t":"2024-01-01T18:13:24Z","s":"Incoming","v":271},{"t":"2024-01-01T18:14:24Z","s":"Incoming","v":353},{"t":"2024-01-01T18:15:25Z","s":"Incoming","v":292},
      {"t":"2024-01-01T18:16:25Z","s":"Incoming","v":300},{"t":"2024-01-01T18:17:25Z","s":"Incoming","v":289},{"t":"2024-01-01T18:18:26Z","s":"Incoming","v":261},{"t":"2024-01-01T18:19:26Z","s":"Incoming","v":335},
      {"t":"2024-01-01T18:20:26Z","s":"Incoming","v":280},{"t":"2024-01-01T18:21:27Z","s":"Incoming","v":298},{"t":"2024-01-01T18:22:27Z","s":"Incoming","v":271},{"t":"2024-01-01T18:23:28Z","s":"Incoming","v":283},
      {"t":"2024-01-01T18:24:28Z","s":"Incoming","v":322},{"t":"2024-01-01T18:25:28Z","s":"Incoming","v":304},{"t":"2024-01-01T18:26:29Z","s":"Incoming","v":308},{"t":"2024-01-01T18:27:29Z","s":"Incoming","v":277},
      {"t":"2024-01-01T18:28:29Z","s":"Incoming","v":542},{"t":"2024-01-01T18:29:30Z","s":"Incoming","v":460},{"t":"2024-01-01T18:30:30Z","s":"Incoming","v":329},{"t":"2024-01-01T18:31:30Z","s":"Incoming","v":290},
      {"t":"2024-01-01T18:32:31Z","s":"Incoming","v":333},{"t":"2024-01-01T18:33:31Z","s":"Incoming","v":306},{"t":"2024-01-01T18:34:32Z","s":"Incoming","v":403},{"t":"2024-01-01T18:35:32Z","s":"Incoming","v":310},
      {"t":"2024-01-01T18:36:32Z","s":"Incoming","v":279},{"t":"2024-01-01T18:37:33Z","s":"Incoming","v":241},{"t":"2024-01-01T18:38:33Z","s":"Incoming","v":257},{"t":"2024-01-01T18:39:33Z","s":"Incoming","v":265},
      {"t":"2024-01-01T18:40:34Z","s":"Incoming","v":243},{"t":"2024-01-01T18:41:34Z","s":"Incoming","v":252},{"t":"2024-01-01T18:42:35Z","s":"Incoming","v":257},{"t":"2024-01-01T18:43:35Z","s":"Incoming","v":224},
      {"t":"2024-01-01T18:44:35Z","s":"Incoming","v":283},{"t":"2024-01-01T18:45:36Z","s":"Incoming","v":250},{"t":"2024-01-01T18:46:36Z","s":"Incoming","v":240},{"t":"2024-01-01T18:47:36Z","s":"Incoming","v":249},
      {"t":"2024-01-01T18:48:37Z","s":"Incoming","v":238},{"t":"2024-01-01T18:49:37Z","s":"Incoming","v":273},{"t":"2024-01-01T18:50:38Z","s":"Incoming","v":238},{"t":"2024-01-01T18:51:38Z","s":"Incoming","v":228},
      {"t":"2024-01-01T18:52:38Z","s":"Incoming","v":224},{"t":"2024-01-01T18:53:39Z","s":"Incoming","v":223},{"t":"2024-01-01T18:54:39Z","s":"Incoming","v":215},{"t":"2024-01-01T18:55:39Z","s":"Incoming","v":224},
      {"t":"2024-01-01T18:56:40Z","s":"Incoming","v":220},{"t":"2024-01-01T18:57:40Z","s":"Incoming","v":207},{"t":"2024-01-01T18:58:40Z","s":"Incoming","v":203},{"t":"2024-01-01T18:59:41Z","s":"Incoming","v":253},
      {"t":"2024-01-01T19:00:41Z","s":"Incoming","v":218},{"t":"2024-01-01T19:01:42Z","s":"Incoming","v":199},{"t":"2024-01-01T19:02:42Z","s":"Incoming","v":211},{"t":"2024-01-01T19:03:42Z","s":"Incoming","v":207},
      {"t":"2024-01-01T19:04:43Z","s":"Incoming","v":216},{"t":"2024-01-01T19:05:43Z","s":"Incoming","v":203},{"t":"2024-01-01T19:06:43Z","s":"Incoming","v":207},{"t":"2024-01-01T19:07:44Z","s":"Incoming","v":203},
      {"t":"2024-01-01T19:08:44Z","s":"Incoming","v":230},{"t":"2024-01-01T19:09:45Z","s":"Incoming","v":210},{"t":"2024-01-01T19:10:45Z","s":"Incoming","v":203},{"t":"2024-01-01T19:11:45Z","s":"Incoming","v":205},
      {"t":"2024-01-01T19:12:46Z","s":"Incoming","v":203},{"t":"2024-01-01T19:13:46Z","s":"Incoming","v":160},{"t":"2024-01-01T19:14:46Z","s":"Incoming","v":224},{"t":"2024-01-01T19:15:47Z","s":"Incoming","v":150},
      {"t":"2024-01-01T19:16:47Z","s":"Incoming","v":185},{"t":"2024-01-01T19:17:47Z","s":"Incoming","v":178},{"t":"2024-01-01T19:18:48Z","s":"Incoming","v":174},{"t":"2024-01-01T19:19:48Z","s":"Incoming","v":182},
      {"t":"2024-01-01T19:20:49Z","s":"Incoming","v":179},{"t":"2024-01-01T19:21:49Z","s":"Incoming","v":164},{"t":"2024-01-01T19:22:49Z","s":"Incoming","v":178},{"t":"2024-01-01T19:23:50Z","s":"Incoming","v":165},
      {"t":"2024-01-01T19:24:50Z","s":"Incoming","v":165},{"t":"2024-01-01T19:25:50Z","s":"Incoming","v":164},{"t":"2024-01-01T19:26:51Z","s":"Incoming","v":160},{"t":"2024-01-01T19:27:51Z","s":"Incoming","v":164},
      {"t":"2024-01-01T19:28:52Z","s":"Incoming","v":160},{"t":"2024-01-01T19:29:52Z","s":"Incoming","v":232},{"t":"2024-01-01T19:30:52Z","s":"Incoming","v":182},{"t":"2024-01-01T19:31:53Z","s":"Incoming","v":154},
      {"t":"2024-01-01T19:32:53Z","s":"Incoming","v":172},{"t":"2024-01-01T19:33:53Z","s":"Incoming","v":164},{"t":"2024-01-01T19:34:54Z","s":"Incoming","v":158},{"t":"2024-01-01T19:35:54Z","s":"Incoming","v":157},
      {"t":"2024-01-01T19:36:55Z","s":"Incoming","v":152},{"t":"2024-01-01T19:37:55Z","s":"Incoming","v":146},{"t":"2024-01-01T19:38:55Z","s":"Incoming","v":144},{"t":"2024-01-01T19:39:56Z","s":"Incoming","v":390},
      {"t":"2024-01-01T19:40:56Z","s":"Incoming","v":523},{"t":"2024-01-01T19:41:56Z","s":"Incoming","v":520},{"t":"2024-01-01T19:42:57Z","s":"Incoming","v":533},{"t":"2024-01-01T19:43:57Z","s":"Incoming","v":530},
      {"t":"2024-01-01T19:44:57Z","s":"Incoming","v":355},{"t":"2024-01-01T19:45:58Z","s":"Incoming","v":536},{"t":"2024-01-01T19:46:58Z","s":"Incoming","v":528},{"t":"2024-01-01T19:47:59Z","s":"Incoming","v":523},
      {"t":"2024-01-01T19:48:59Z","s":"Incoming","v":523},{"t":"2024-01-01T19:49:59Z","s":"Incoming","v":530},{"t":"2024-01-01T19:51:00Z","s":"Incoming","v":515},{"t":"2024-01-01T19:52:00Z","s":"Incoming","v":117},
      {"t":"2024-01-01T19:53:00Z","s":"Incoming","v":131},{"t":"2024-01-01T19:54:01Z","s":"Incoming","v":117},{"t":"2024-01-01T19:55:01Z","s":"Incoming","v":131},{"t":"2024-01-01T19:56:02Z","s":"Incoming","v":123},
      {"t":"2024-01-01T19:57:02Z","s":"Incoming","v":118},{"t":"2024-01-01T19:58:02Z","s":"Incoming","v":117},{"t":"2024-01-01T19:59:03Z","s":"Incoming","v":118},{"t":"2024-01-01T20:00:03Z","s":"Incoming","v":236},
      {"t":"2024-01-01T18:00:19Z","s":"QueueSize","v":0},{"t":"2024-01-01T18:20:26Z","s":"QueueSize","v":0},{"t":"2024-01-01T18:40:34Z","s":"QueueSize","v":0},{"t":"2024-01-01T19:00:41Z","s":"QueueSize","v":0},
      {"t":"2024-01-01T19:20:49Z","s":"QueueSize","v":0},{"t":"2024-01-01T19:38:55Z","s":"QueueSize","v":0},{"t":"2024-01-01T19:39:56Z","s":"QueueSize","v":1},{"t":"2024-01-01T20:00:03Z","s":"QueueSize","v":1}
    ]
  },
  "vconcat": [
    {
      "title": "Frankfurt",
      "width": 537,
      "height": 321,
      "data": {"name": "fra"},
      "mark": {"type": "line", "strokeWidth": 1.5},
      "encoding": {
        "x": {
          "field": "t", "type": "temporal",
          "scale": {"type": "utc", "nice": false},
          "axis": {
            "tickCount": 24,
            "labelExpr": "utcminutes(datum.value) % 20 == 0 ? utcFormat(datum.value, '%H:%M') : ''",
            "gridColor": "#e6e6e6",
            "labelPadding": 11
          }
        },
        "y": {
          "field": "v", "type": "quantitative",
          "scale": {"domain": [500, 3000], "nice": false, "zero": false},
          "axis": {
            "values": [500, 750, 1000, 1250, 1500, 1750, 2000, 2250, 2500, 2750, 3000],
            "labelExpr": "datum.value % 500 == 0 ? format(datum.value, '.1f') : ''",
            "gridColor": {"condition": {"test": "datum.value % 500 == 0", "value": "#ffffff"}, "value": "#e6e6e6"},
            "labelPadding": 7
          }
        },
        "color": {
          "field": "s", "type": "nominal",
          "scale": {"domain": ["Outgoing", "Incoming"], "range": ["#6666ff", "#00cc00"]},
          "legend": {"title": null, "orient": "none", "legendX": -33, "legendY": 350}
        }
      }
    },
    {
      "title": "Mumbai",
      "width": 537,
      "height": 321,
      "data": {"name": "bom"},
      "mark": {"type": "line", "strokeWidth": 1.5},
      "view": {"stroke": "#e8d2e8"},
      "encoding": {
        "x": {
          "field": "t", "type": "temporal",
          "scale": {"type": "utc", "nice": false},
          "axis": {
            "tickCount": 24,
            "labelExpr": "utcminutes(datum.value) % 20 == 0 && utchours(datum.value) < 20 ? utcFormat(datum.value, '%H:%M') : ''",
            "gridColor": {"condition": {"test": "utcminutes(datum.value) % 20 == 0", "value": "#dcc4dc"}, "value": "#e3e3e3"},
            "labelPadding": 11
          }
        },
        "y": {
          "field": "v", "type": "quantitative",
          "scale": {"domain": [0, 750], "nice": false},
          "axis": {
            "values": [0, 62.5, 125, 187.5, 250, 312.5, 375, 437.5, 500, 562.5, 625, 687.5, 750],
            "labelExpr": "datum.value % 125 == 0 ? (datum.value == 0 ? '0' : format(datum.value, '.1f')) : ''",
            "gridColor": {"condition": {"test": "datum.value % 125 == 0", "value": "#e8d2e8"}, "value": "#e3e3e3"},
            "labelPadding": 6
          }
        },
        "color": {
          "field": "s", "type": "nominal",
          "scale": {"domain": ["Outgoing", "Incoming", "QueueSize"], "range": ["#6666ff", "#00cc00", "#cc0033"]},
          "legend": {"title": null, "orient": "none", "legendX": -33, "legendY": 350}
        }
      }
    }
  ]
}
